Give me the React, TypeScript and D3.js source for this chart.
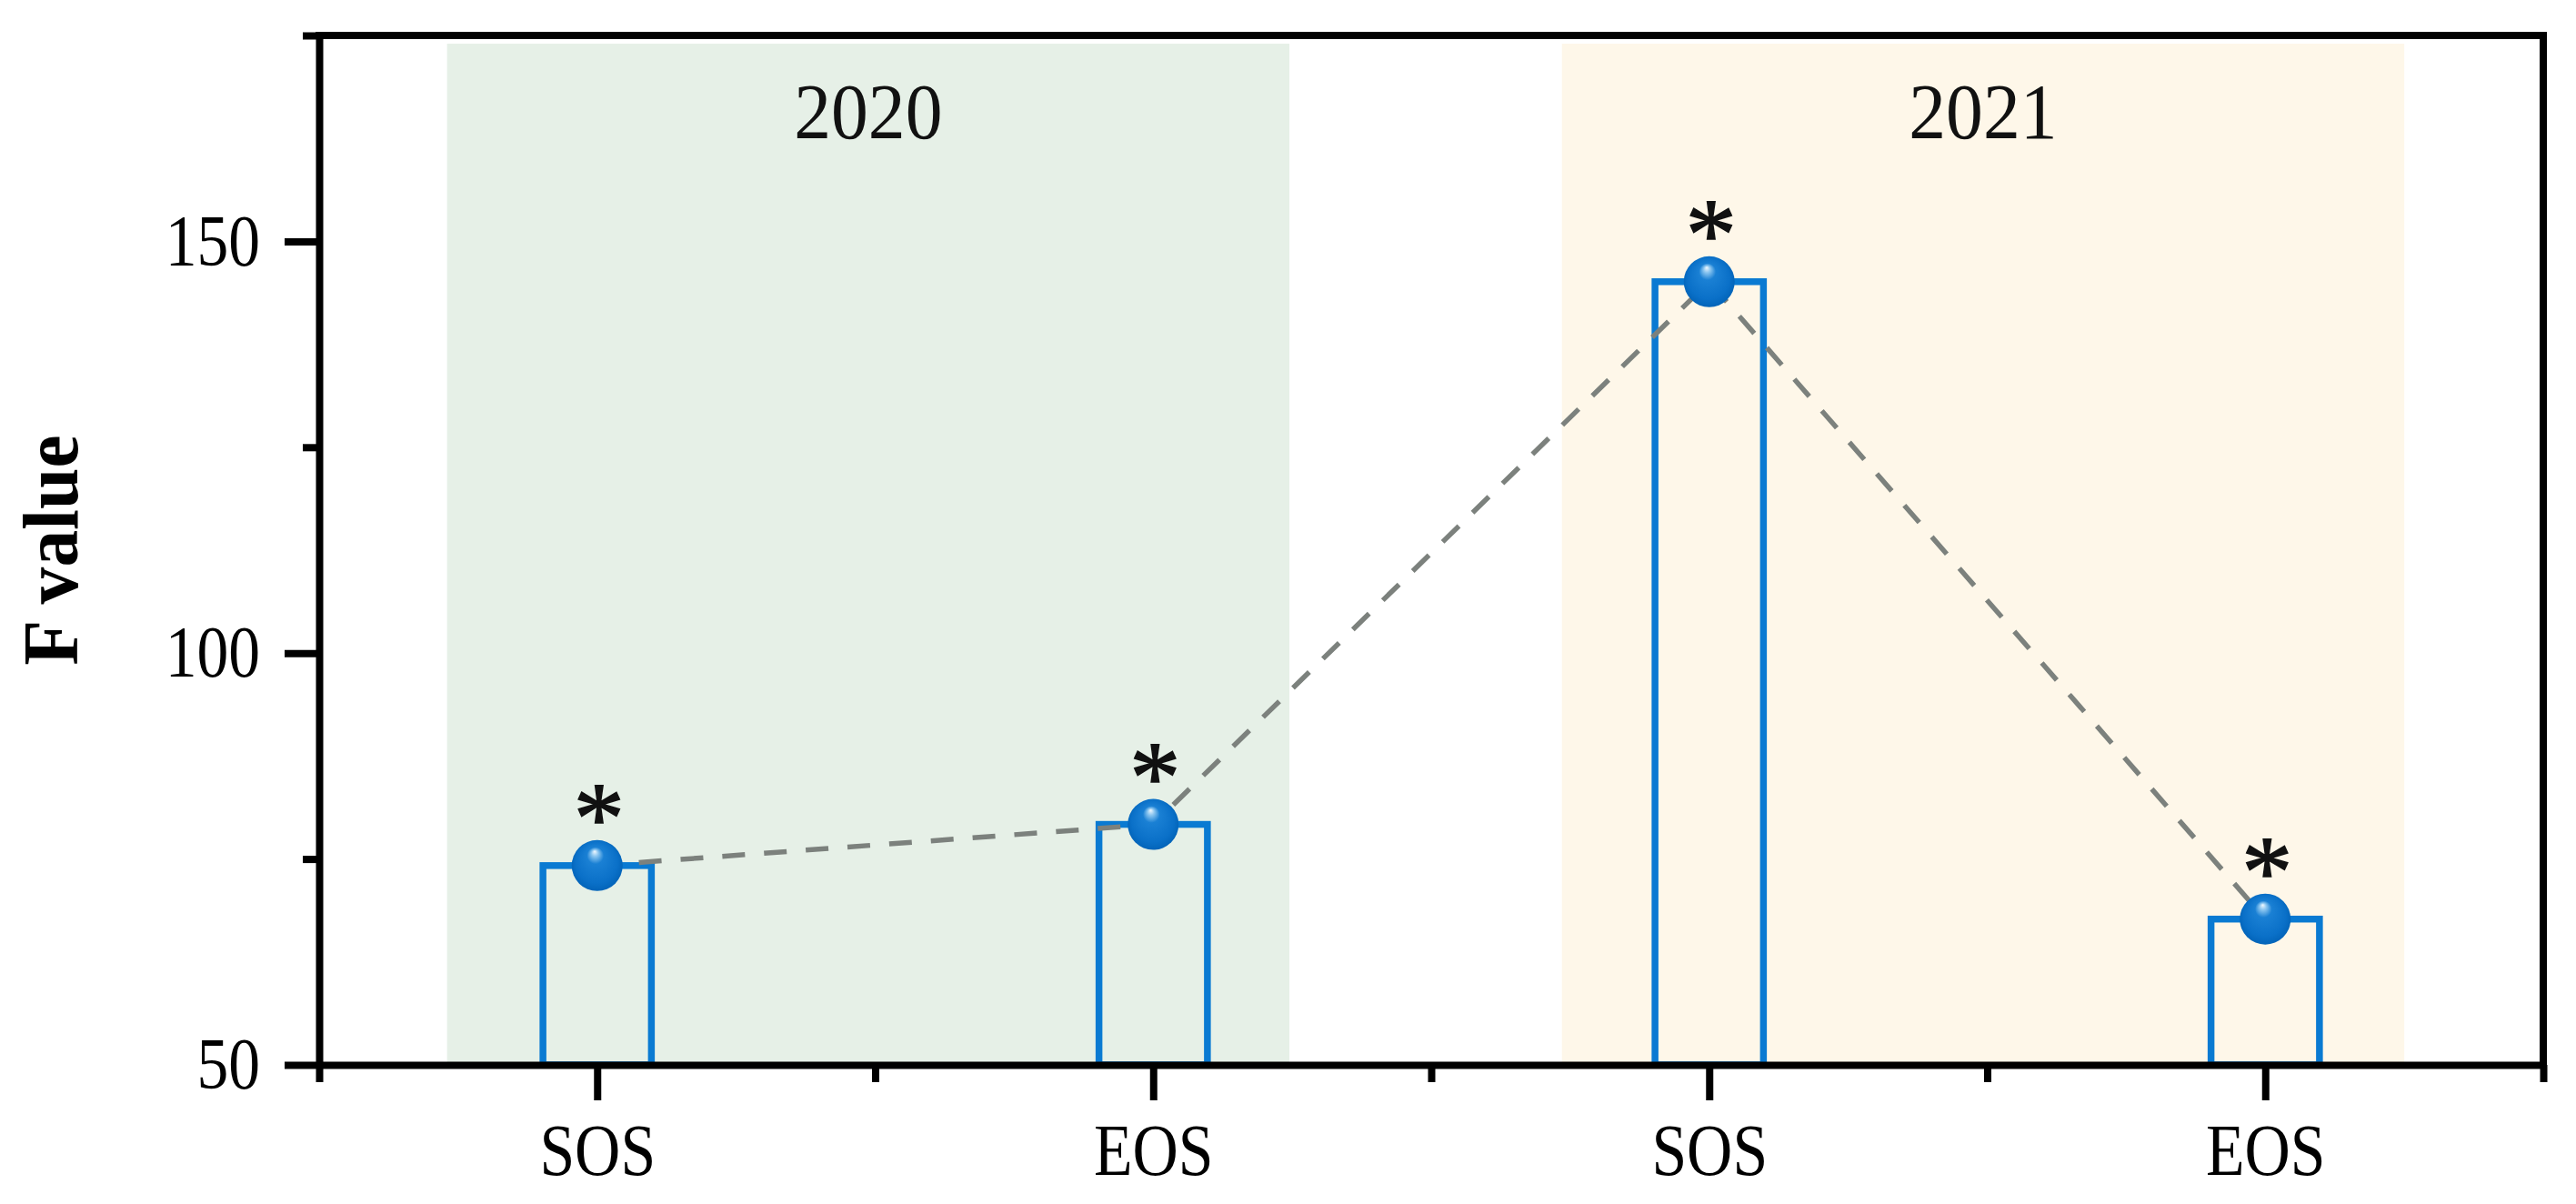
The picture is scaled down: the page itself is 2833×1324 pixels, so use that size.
import React, { useEffect, useRef } from "react";
import * as d3 from "d3";

// values
const categories = ["SOS", "EOS", "SOS", "EOS"];
const fValues = [74.2, 79.2, 145.1, 67.7];
const marks = ["*", "*", "*", "*"];
const yMajorTicks = [50, 100, 150];
const yMinorTicks = [75, 125, 175];
const xMinorTicks = [0.5, 1.5, 2.5, 3.5, 4.5];
const years = ["2020", "2021"];
const yearBands = [
  [0.73, 2.245],
  [2.735, 4.25],
];
const bandColors = ["#e6f0e7", "#fef7e9"];

const W = 2833;
const H = 1324;
const FONT = "Liberation Serif, Times New Roman, Times, serif";
const SQUEEZE = 0.87; // the figure's serif is a bit narrower than Liberation Serif

const App = () => {
  const svgRef = useRef<SVGSVGElement>(null);

  useEffect(() => {
    document.body.style.margin = "0";

    const margin = { top: 39, right: 36, bottom: 153, left: 351 };
    const svg = d3.select(svgRef.current);
    svg.selectAll("*").remove();

    const x = d3
      .scaleLinear()
      .domain([0.5, 4.5])
      .range([margin.left, W - margin.right]);
    const y = d3
      .scaleLinear()
      .domain([50, 175])
      .range([H - margin.bottom, margin.top]);

    const defs = svg.append("defs");
    const grad = defs
      .append("radialGradient")
      .attr("id", "ball")
      .attr("cx", "0.5")
      .attr("cy", "0.5")
      .attr("r", "0.55")
      .attr("fx", "0.45")
      .attr("fy", "0.22");
    grad.append("stop").attr("offset", "0").attr("stop-color", "#f2f9ff");
    grad.append("stop").attr("offset", "0.12").attr("stop-color", "#8cc6f0");
    grad.append("stop").attr("offset", "0.3").attr("stop-color", "#1a80d4");
    grad.append("stop").attr("offset", "0.75").attr("stop-color", "#0a70c8");
    grad.append("stop").attr("offset", "1").attr("stop-color", "#0060b4");

    // year shading
    svg
      .append("g")
      .selectAll("rect")
      .data(yearBands)
      .join("rect")
      .attr("x", (d) => x(d[0]))
      .attr("width", (d) => x(d[1]) - x(d[0]))
      .attr("y", y(174))
      .attr("height", y(50) - y(174))
      .attr("fill", (d, i) => bandColors[i]);

    svg
      .append("g")
      .selectAll("text")
      .data(years)
      .join("text")
      .attr(
        "transform",
        (d, i) =>
          `translate(${(x(yearBands[i][0]) + x(yearBands[i][1])) / 2},${y(175) + 113}) scale(0.95,1)`
      )
      .attr("text-anchor", "middle")
      .attr("font-family", FONT)
      .attr("font-size", 86)
      .attr("fill", "#111")
      .text((d) => d);

    // hollow bars
    const bw = 0.195;
    svg
      .append("g")
      .selectAll("rect")
      .data(fValues)
      .join("rect")
      .attr("x", (d, i) => x(i + 1 - bw / 2))
      .attr("width", x(bw) - x(0))
      .attr("y", (d) => y(d))
      .attr("height", (d) => y(50) - y(d))
      .attr("fill", "none")
      .attr("stroke", "#0a7ad2")
      .attr("stroke-width", 7.5);

    const line = d3
      .line<number>()
      .x((d, i) => x(i + 1))
      .y((d) => y(d));

    svg
      .append("path")
      .datum(fValues)
      .attr("d", line)
      .attr("fill", "none")
      .attr("stroke", "#7c817d")
      .attr("stroke-width", 5.5)
      .attr("stroke-dasharray", "25 21");

    svg
      .append("g")
      .selectAll("circle")
      .data(fValues)
      .join("circle")
      .attr("cx", (d, i) => x(i + 1))
      .attr("cy", (d) => y(d))
      .attr("r", 28)
      .attr("fill", "url(#ball)");

    svg
      .append("g")
      .selectAll("text")
      .data(fValues)
      .join("text")
      .attr("transform", (d, i) => `translate(${x(i + 1) + 2},${y(d) - 15})`)
      .attr("text-anchor", "middle")
      .attr("font-family", FONT)
      .attr("font-size", 112)
      .attr("fill", "#111")
      .attr("stroke", "#111")
      .attr("stroke-width", 1.5)
      .text((d, i) => marks[i]);

    // axes
    const styleAxis = (g) => {
      g.select(".domain").attr("stroke", "#000").attr("stroke-width", 8);
      g.selectAll(".tick line").attr("stroke", "#000").attr("stroke-width", 8);
      g.selectAll(".tick text").attr("font-family", FONT).attr("fill", "#000");
    };

    const xAxis = d3
      .axisBottom(x)
      .tickValues([1, 2, 3, 4])
      .tickFormat((d) => categories[+d - 1])
      .tickSize(39)
      .tickSizeOuter(0)
      .tickPadding(25);
    const gx = svg
      .append("g")
      .attr("transform", `translate(0,${y(50)})`)
      .call(xAxis)
      .call(styleAxis);
    gx.selectAll(".tick text")
      .attr("font-size", 80)
      .attr("transform", `scale(${SQUEEZE},1)`);

    svg
      .append("g")
      .attr("transform", `translate(0,${y(50)})`)
      .call(d3.axisBottom(x).tickValues(xMinorTicks).tickFormat(() => "").tickSize(19).tickSizeOuter(0))
      .call(styleAxis)
      .select(".domain")
      .remove();

    const yAxis = d3
      .axisLeft(y)
      .tickValues(yMajorTicks)
      .tickFormat(d3.format("d"))
      .tickSize(38)
      .tickSizeOuter(0)
      .tickPadding(27);
    const gy = svg
      .append("g")
      .attr("transform", `translate(${x(0.5)},0)`)
      .call(yAxis)
      .call(styleAxis);
    gy.selectAll(".tick text")
      .attr("font-size", 80)
      .attr("x", -(38 + 27) / SQUEEZE)
      .attr("transform", `scale(${SQUEEZE},1)`);

    svg
      .append("g")
      .attr("transform", `translate(${x(0.5)},0)`)
      .call(d3.axisLeft(y).tickValues(yMinorTicks).tickFormat(() => "").tickSize(18).tickSizeOuter(0))
      .call(styleAxis)
      .select(".domain")
      .remove();

    // top and right frame
    svg
      .append("path")
      .attr("d", `M${x(0.5)},${y(175)}H${x(4.5)}V${y(50)}`)
      .attr("fill", "none")
      .attr("stroke", "#000")
      .attr("stroke-width", 8)
      .attr("stroke-linecap", "square");

    svg
      .append("text")
      .attr("transform", `translate(85,${(y(50) + y(175)) / 2}) rotate(-90) scale(0.95,1)`)
      .attr("text-anchor", "middle")
      .attr("font-family", FONT)
      .attr("font-size", 86)
      .attr("font-weight", "bold")
      .attr("fill", "#000")
      .text("F value");
  }, []);

  return <svg ref={svgRef} width={W} height={H} style={{ display: "block", background: "#fff" }}></svg>;
};

export default App;
